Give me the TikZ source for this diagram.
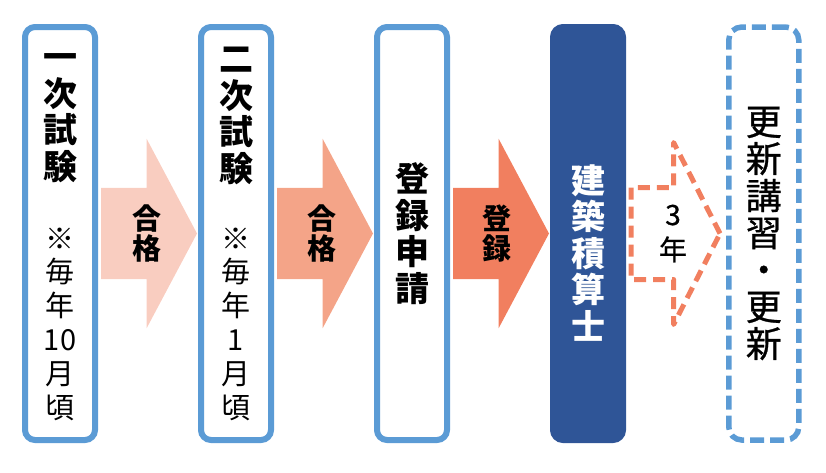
\documentclass[tikz,border=0pt]{standalone}
\usepackage{fontspec}
\setmainfont{Noto Sans CJK JP}
\newfontfamily\jpmedium[FakeBold=0.8]{Noto Sans CJK JP}
\usetikzlibrary{
  positioning,
  shapes.arrows
}

\definecolor{stageblue}{HTML}{5B9BD5}
\definecolor{qsnavy}{HTML}{2F5597}
\definecolor{passlight}{HTML}{F9CDC0}
\definecolor{passmid}{HTML}{F4A488}
\definecolor{passdeep}{HTML}{F17F5F}

\begin{document}
\begin{tikzpicture}[
  x=1pt,
  y=-1pt,
  node distance=100pt,
  stage/.style={
    draw=stageblue,
    line width=6pt,
    rounded corners=10pt,
    minimum width=70pt,
    minimum height=413pt,
    fill=white
  },
  title/.style={
    align=center,
    inner sep=0pt,
    font=\bfseries\fontsize{34}{36.5}\selectfont
  },
  note/.style={
    align=center,
    inner sep=0pt,
    font=\fontsize{29}{33.8}\selectfont
  },
  flow/.style={
    single arrow,
    anchor=tail,
    outer sep=0pt,
    inner xsep=0pt,
    inner ysep=45.5pt,
    minimum height=96pt,
    single arrow head extend=49pt,
    single arrow tip angle=124
  },
  flowtext/.style={
    align=center,
    inner sep=0pt,
    font=\bfseries\fontsize{29}{30.5}\selectfont
  }
]

\useasboundingbox (0,0) rectangle (826,472);

\node[stage] (exam1) at (60,233.5) {};
\node[stage,right=of exam1] (exam2) {};
\node[stage,right=of exam2] (apply) {};
\node[stage,right=of apply,draw=qsnavy,fill=qsnavy] (qs) {};
\node[stage,right=of qs,fill=none,line width=5.5pt,
  dash pattern=on 14pt off 6pt,rounded corners=13pt] (renew) {};

\node[title] (exam1t) at ([yshift=-94pt]exam1.north) {一\\次\\試\\験};
\node[note] (exam1n) at ([yshift=-300pt]exam1.north) {※\\毎\\年\\10\\月\\頃};
\node[title] (exam2t) at ([yshift=-92pt]exam2.north) {二\\次\\試\\験};
\node[note] (exam2n) at ([yshift=-300pt]exam2.north) {※\\毎\\年\\1\\月\\頃};
\node[title] (applyt) at (apply.center) {登\\録\\申\\請};
\node[title,text=white] (qst) at ([yshift=-19.5pt]qs.center) {建\\築\\積\\算\\士};
\node[title,font=\jpmedium\fontsize{36}{37}\selectfont] (renewt)
  at (renew.center) {更\\新\\講\\習\\・\\更\\新};

\node[flow,fill=passlight] (pass1) at ([xshift=3pt]exam1.east) {};
\node[flow,fill=passmid] (pass2) at ([xshift=3pt]exam2.east) {};
\node[flow,fill=passdeep] (reg) at ([xshift=3pt]apply.east) {};
\node[flow,draw=passdeep,line width=5pt,line join=round,
  dash pattern=on 12pt off 7pt,inner ysep=43.5pt,minimum height=89pt,
  single arrow head extend=45pt,single arrow tip angle=126]
  (cycle) at ([xshift=5pt]qs.east) {};

\node[flowtext] (pass1t) at ([xshift=46pt]pass1.tail) {合\\格};
\node[flowtext] (pass2t) at ([xshift=45pt]pass2.tail) {合\\格};
\node[flowtext] (regt) at ([xshift=44pt]reg.tail) {登\\録};
\node[flowtext,font=\jpmedium\fontsize{28}{35}\selectfont] (cyclet)
  at ([xshift=42pt]cycle.tail) {3\\年};

\end{tikzpicture}
\end{document}
